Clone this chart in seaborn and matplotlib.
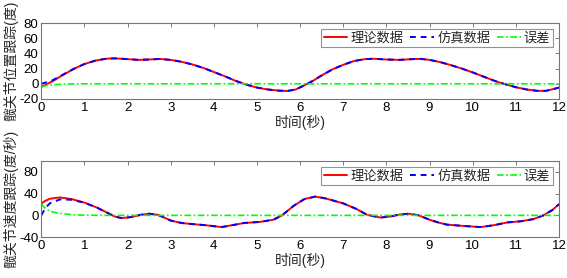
import numpy as np
import pandas as pd
import matplotlib
matplotlib.use("Agg")
import matplotlib.pyplot as plt
import seaborn as sns

# hip joint position tracking (degrees)
pos_t = [0, 0.25, 0.5, 0.75, 1.0, 1.25, 1.5, 1.7, 2.0, 2.25, 2.5, 2.75, 3.0, 3.25,
         3.5, 3.75, 4.0, 4.25, 4.5, 4.75, 5.0, 5.25, 5.5, 5.7, 5.9, 6.1, 6.3, 6.5,
         6.75, 7.0, 7.25, 7.5, 7.7, 8.0, 8.3, 8.6, 8.8, 9.0, 9.25, 9.5, 9.75, 10.0,
         10.25, 10.5, 10.75, 11.0, 11.25, 11.5, 11.7, 11.9, 12.0]
pos_theory = [-4, 3, 11.5, 19.5, 26, 30.5, 33, 33.5, 32.5, 31.5, 32, 32.7, 31.5, 29,
              25.5, 21, 15.5, 10, 4, -1, -5, -7.5, -9, -9.5, -7.5, -2, 4, 11,
              19, 25, 30, 32.5, 33, 32, 31.5, 32.5, 32.8, 31.5, 28.5, 24.5, 20, 15,
              9.5, 4, -0.5, -4.5, -7.5, -9.3, -9.3, -6.5, -5]
pos_err_t = [0, 0.1, 0.25, 0.5, 0.8, 1.2, 12.0]
pos_err = [-4, -2.5, -1.3, -0.5, -0.1, 0, 0]

# hip joint velocity tracking (degrees/second)
vel_t = [0, 0.1, 0.2, 0.43, 0.7, 1.0, 1.3, 1.55, 1.7, 1.86, 2.1, 2.3, 2.5, 2.7, 2.85,
         3.0, 3.25, 3.5, 3.8, 4.18, 4.5, 4.7, 5.07, 5.38, 5.58, 5.85, 6.1, 6.35, 6.6,
         7.0, 7.3, 7.55, 7.86, 8.1, 8.3, 8.52, 8.75, 9.0, 9.2, 9.4, 9.8, 10.18, 10.5,
         10.8, 11.1, 11.4, 11.64, 11.85, 12.0]
vel_theory = [22, 27, 30.5, 33, 30, 23.5, 14, 4, -2, -5, -3, 1, 3, 1, -4,
              -9.5, -14, -16, -18, -21.5, -17, -14, -12, -8, 0, 17.5, 30, 34.5, 31,
              22, 12, 1, -4, -2, 1.5, 3, 0, -8, -13, -17, -19.5, -21.5, -18,
              -13, -11, -7, 0, 10, 20.5]
vel_err_t = [0, 0.05, 0.15, 0.25, 0.4, 0.7, 1.0, 1.5, 12.0]
vel_err = [22, 16, 10, 6.5, 4, 1.3, 0.3, 0, 0]

LEGEND_LABELS = ["理论数据", "仿真数据", "误差"]
XLABEL = "时间(秒)"
YLABELS = ["髋关节位置跟踪(度)", "髋关节速度跟踪(度/秒)"]


def build_frame(t, theory, err_t, err):
    """simulated = theory - error on the theory knots"""
    tt = np.array(t, dtype=float)
    th = np.array(theory, dtype=float)
    e_on_t = np.interp(tt, err_t, err)
    return pd.DataFrame({"t": tt, "theory": th, "sim": th - e_on_t}), \
        pd.DataFrame({"t": err_t, "err": err})


sns.set_style("white")
plt.rcParams["font.family"] = ["Liberation Sans", "Noto Sans CJK SC", "DejaVu Sans"]
plt.rcParams["axes.unicode_minus"] = False

fig = plt.figure(figsize=(5.67, 2.78), dpi=100)
ax_top = fig.add_axes([0.0728, 0.644, 0.913, 0.273])
ax_bot = fig.add_axes([0.0728, 0.147, 0.913, 0.274])

panels = [
    (ax_top, pos_t, pos_theory, pos_err_t, pos_err, (-20, 80), [-20, 0, 20, 40, 60, 80]),
    (ax_bot, vel_t, vel_theory, vel_err_t, vel_err, (-40, 100), [-40, 0, 40, 80]),
]

for i, (ax, t, theory, et, e, ylim, yticks) in enumerate(panels):
    df, df_err = build_frame(t, theory, et, e)
    sns.lineplot(data=df, x="t", y="theory", ax=ax, color="#ff0000", lw=1.4,
                 label=LEGEND_LABELS[0])
    sns.lineplot(data=df, x="t", y="sim", ax=ax, color="#0000ff", lw=1.4,
                 linestyle=(0, (3, 2.5)), label=LEGEND_LABELS[1])
    sns.lineplot(data=df_err, x="t", y="err", ax=ax, color="#00ff00", lw=1.2,
                 linestyle=(0, (4, 1.5, 1, 1.5)), label=LEGEND_LABELS[2])

    ax.set_xlim(0, 12)
    ax.set_ylim(*ylim)
    ax.set_xticks(range(0, 13))
    ax.set_yticks(yticks)
    ax.tick_params(direction="in", length=3, width=0.6, top=True, right=True,
                   labelsize=9.5, colors="#666666", labelcolor="black", pad=2)
    for sp in ax.spines.values():
        sp.set_color("#777777")
        sp.set_linewidth(0.8)
    ax.set_xlabel(XLABEL, fontsize=10, labelpad=1)
    ax.set_ylabel(YLABELS[i], fontsize=10, labelpad=1)

    leg = ax.legend(loc="upper right", ncol=3, fontsize=9.5, frameon=True,
                    fancybox=False, borderaxespad=0.45, handlelength=1.8,
                    handletextpad=0.25, columnspacing=0.5, borderpad=0.2)
    leg.get_frame().set_edgecolor("#777777")
    leg.get_frame().set_linewidth(0.8)

fig.savefig("out.png", dpi=100)
